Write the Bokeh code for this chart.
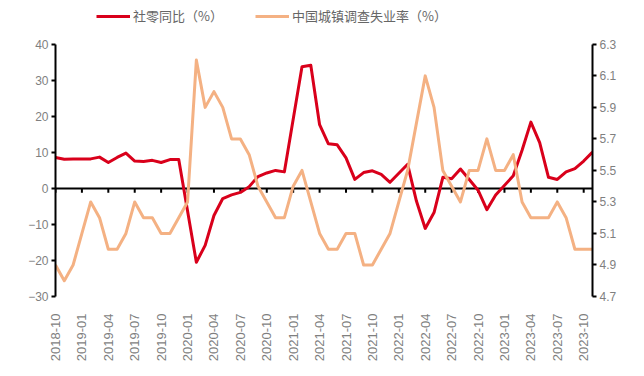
import math
from bokeh.plotting import figure
from bokeh.models import (Range1d, LinearAxis, FixedTicker, Span, Legend,
                          LegendItem, NumeralTickFormatter)
from bokeh.embed import file_html
from bokeh.resources import INLINE

months = [
    "2018-10", "2018-11", "2018-12",
    "2019-01", "2019-02", "2019-03", "2019-04", "2019-05", "2019-06",
    "2019-07", "2019-08", "2019-09", "2019-10", "2019-11", "2019-12",
    "2020-01", "2020-02", "2020-03", "2020-04", "2020-05", "2020-06",
    "2020-07", "2020-08", "2020-09", "2020-10", "2020-11", "2020-12",
    "2021-01", "2021-02", "2021-03", "2021-04", "2021-05", "2021-06",
    "2021-07", "2021-08", "2021-09", "2021-10", "2021-11", "2021-12",
    "2022-01", "2022-02", "2022-03", "2022-04", "2022-05", "2022-06",
    "2022-07", "2022-08", "2022-09", "2022-10", "2022-11", "2022-12",
    "2023-01", "2023-02", "2023-03", "2023-04", "2023-05", "2023-06",
    "2023-07", "2023-08", "2023-09", "2023-10", "2023-11",
]

# 社零同比 (%) – January values are not published separately (None)
retail_yoy = [
    8.6, 8.1, 8.2,
    None, 8.2, 8.7, 7.2, 8.6, 9.8,
    7.6, 7.5, 7.8, 7.2, 8.0, 8.0,
    None, -20.5, -15.8, -7.5, -2.8, -1.8,
    -1.1, 0.5, 3.3, 4.3, 5.0, 4.6,
    None, 33.8, 34.2, 17.7, 12.4, 12.1,
    8.5, 2.5, 4.4, 4.9, 3.9, 1.7,
    None, 6.7, -3.5, -11.1, -6.7, 3.1,
    2.7, 5.4, 2.5, -0.5, -5.9, -1.8,
    None, 3.5, 10.6, 18.4, 12.7, 3.1,
    2.5, 4.6, 5.5, 7.6, 10.1,
]

# 中国城镇调查失业率 (%)
unemployment = [
    4.9, 4.8, 4.9,
    5.1, 5.3, 5.2, 5.0, 5.0, 5.1,
    5.3, 5.2, 5.2, 5.1, 5.1, 5.2,
    5.3, 6.2, 5.9, 6.0, 5.9, 5.7,
    5.7, 5.6, 5.4, 5.3, 5.2, 5.2,
    5.4, 5.5, 5.3, 5.1, 5.0, 5.0,
    5.1, 5.1, 4.9, 4.9, 5.0, 5.1,
    5.3, 5.5, 5.8, 6.1, 5.9, 5.5,
    5.4, 5.3, 5.5, 5.5, 5.7, 5.5,
    5.5, 5.6, 5.3, 5.2, 5.2, 5.2,
    5.3, 5.2, 5.0, 5.0, 5.0,
]

left_ticks = [-30, -20, -10, 0, 10, 20, 30, 40]
right_ticks = [4.7, 4.9, 5.1, 5.3, 5.5, 5.7, 5.9, 6.1, 6.3]
label_every = 3

series_names = ["社零同比（%）", "中国城镇调查失业率（%）"]

RED = "#D9001B"
ORANGE = "#F4B183"
TXT = "#7F7F7F"
FONT = "Noto Sans CJK SC"
NUM_FONT = "Liberation Sans"

# layout (pixels): plotting area spans 44..297 vertically; the frame is
# extended to the top of the canvas so the legend can sit inside it.
AXIS_TOP_PX = 44
AXIS_H_PX = 253
FRAME_H = AXIS_TOP_PX + AXIS_H_PX
WIDTH, HEIGHT = 636, 364
BORDER_L, BORDER_R = 55, 44

lo, hi = left_ticks[0], left_ticks[-1]
left_top = lo + (hi - lo) * FRAME_H / AXIS_H_PX
rlo, rhi = right_ticks[0], right_ticks[-1]
right_top = rlo + (rhi - rlo) * FRAME_H / AXIS_H_PX

n = len(months)
x_idx = list(range(n))
tick_idx = x_idx[::label_every]

p = figure(width=WIDTH, height=HEIGHT, output_backend="svg", toolbar_location=None,
           x_range=Range1d(0, n - 1), y_range=Range1d(lo, left_top),
           min_border_left=BORDER_L, min_border_right=BORDER_R, min_border_top=0,
           min_border_bottom=HEIGHT - FRAME_H, outline_line_color=None,
           background_fill_color="white", border_fill_color="white")
p.extra_y_ranges = {"rate": Range1d(rlo, right_top)}
p.xgrid.visible = False
p.ygrid.visible = False

# x axis (labels only)
xa = p.xaxis[0]
xa.ticker = FixedTicker(ticks=tick_idx)
xa.major_label_overrides = {i: months[i] for i in tick_idx}
xa.axis_line_color = None
xa.major_tick_line_color = None
xa.minor_tick_line_color = None
xa.major_label_orientation = math.pi / 2
xa.major_label_text_font = NUM_FONT
xa.major_label_text_font_size = "13px"
xa.major_label_text_color = TXT
xa.major_label_standoff = 11

# left axis
ya = p.yaxis[0]
ya.ticker = FixedTicker(ticks=left_ticks)
ya.bounds = (lo, hi)
ya.axis_line_width = 2
ya.axis_line_color = "black"
ya.major_tick_line_width = 2
ya.major_tick_out = 4
ya.major_tick_in = 0
ya.minor_tick_line_color = None
ya.major_label_text_font = NUM_FONT
ya.major_label_text_font_size = "12px"
ya.major_label_text_color = TXT
ya.major_label_standoff = 3

# right axis
ra = LinearAxis(y_range_name="rate", ticker=FixedTicker(ticks=right_ticks),
                formatter=NumeralTickFormatter(format="0.0"), bounds=(rlo, rhi))
ra.axis_line_width = 2
ra.axis_line_color = "black"
ra.major_tick_line_width = 2
ra.major_tick_out = 4
ra.major_tick_in = 0
ra.minor_tick_line_color = None
ra.major_label_text_font = NUM_FONT
ra.major_label_text_font_size = "12px"
ra.major_label_text_color = TXT
ra.major_label_standoff = 3
p.add_layout(ra, "right")

# zero line with tick marks
zero = Span(location=0, dimension="width", line_color="black", line_width=2,
            level="underlay")
p.add_layout(zero)
p.segment(x0=tick_idx, y0=[0] * len(tick_idx), x1=tick_idx,
          y1=[-1.2] * len(tick_idx), line_color="black", line_width=2)

rx = [i for i, v in zip(x_idx, retail_yoy) if v is not None]
ry = [v for v in retail_yoy if v is not None]
r1 = p.line(rx, ry, line_color=RED, line_width=3, line_join="round")
r2 = p.line(x_idx, unemployment, line_color=ORANGE, line_width=3,
            line_join="round", y_range_name="rate")

legend = Legend(items=[LegendItem(label=series_names[0], renderers=[r1]),
                       LegendItem(label=series_names[1], renderers=[r2])],
                orientation="horizontal", location=(41, FRAME_H - 26),
                padding=0, margin=0, spacing=32, glyph_width=34,
                glyph_height=18, label_height=18, label_standoff=3,
                label_text_font=FONT, label_text_font_size="13px",
                label_text_color="#666666", border_line_alpha=0,
                background_fill_alpha=0)
p.add_layout(legend)

open("out.html", "w").write(file_html(p, INLINE))
